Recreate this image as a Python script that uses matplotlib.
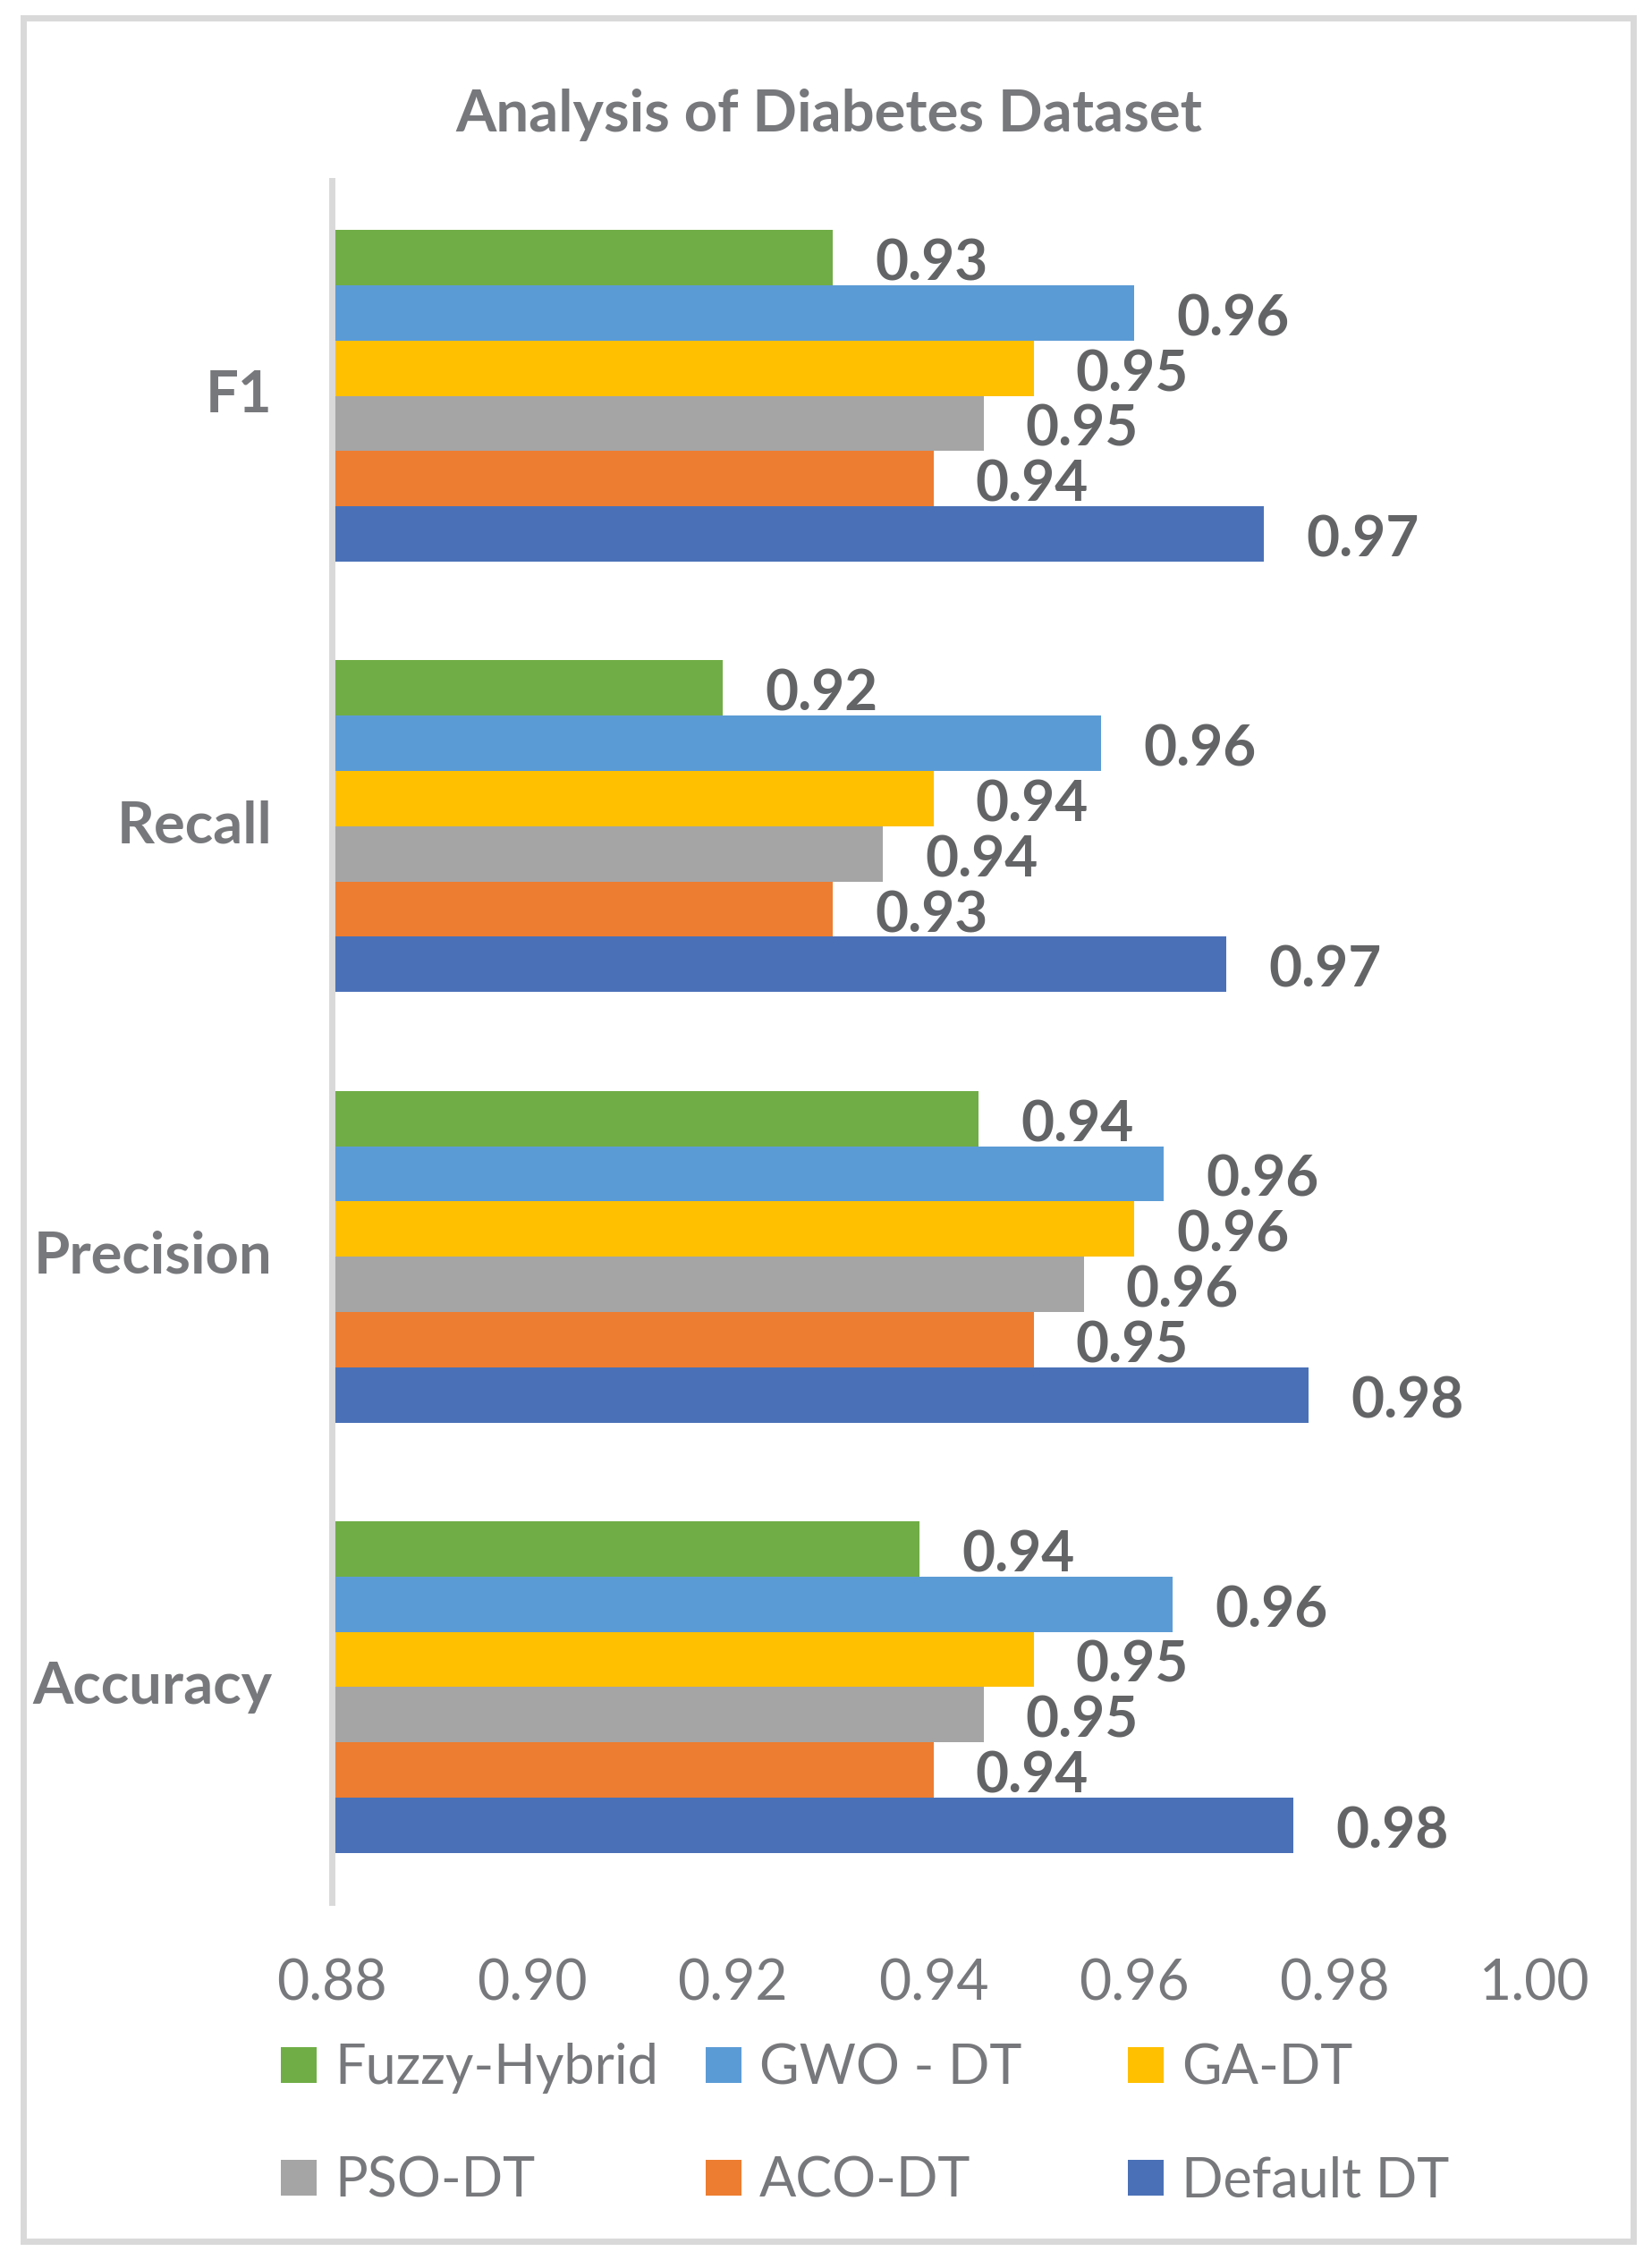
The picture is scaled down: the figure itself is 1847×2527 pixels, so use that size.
import numpy as np
import matplotlib
matplotlib.use("Agg")
import matplotlib.pyplot as plt
import matplotlib.transforms as mtransforms
from matplotlib.patches import Rectangle, Patch
from decimal import Decimal, ROUND_HALF_UP

plt.rcParams['font.family'] = ['Lato', 'DejaVu Sans']

# ---- data ----
categories = ['F1', 'Recall', 'Precision', 'Accuracy']
series_names = ['Fuzzy-Hybrid', 'GWO - DT', 'GA-DT', 'PSO-DT', 'ACO-DT', 'Default DT']
fuzzy_hybrid = [0.930, 0.919, 0.9445, 0.9386]
gwo_dt = [0.960, 0.9567, 0.963, 0.9639]
ga_dt = [0.950, 0.940, 0.960, 0.950]
pso_dt = [0.945, 0.935, 0.955, 0.945]
aco_dt = [0.940, 0.930, 0.950, 0.940]
default_dt = [0.973, 0.9692, 0.9774, 0.9759]
x_ticks = [0.88, 0.90, 0.92, 0.94, 0.96, 0.98, 1.00]

series_values = [fuzzy_hybrid, gwo_dt, ga_dt, pso_dt, aco_dt, default_dt]
colors = ['#70AD47', '#5B9BD5', '#FFC000', '#A5A5A5', '#ED7D31', '#4A71B7']

TEXT = '#77787B'
LABEL = '#636466'
GRID = '#D9D9D9'

W, H = 1847, 2527
fig = plt.figure(figsize=(W / 100, H / 100), dpi=100)
fig.patch.set_facecolor('white')

# outer border
fig.patches.append(Rectangle((26 / W, 1 - 2506 / H), (1826 - 26) / W, (2506 - 20) / H,
                             transform=fig.transFigure, fill=False,
                             edgecolor=GRID, linewidth=5, zorder=0))

ax = fig.add_axes([371 / W, 1 - 2127 / H, (1716 - 371) / W, (2127 - 202) / H])

n = len(series_names)
bh = 0.1284
ypos = np.arange(len(categories))
for i, (name, vals, c) in enumerate(zip(series_names, series_values, colors)):
    y = ypos + (i - (n - 1) / 2) * bh
    ax.barh(y, vals, height=bh, left=0, color=c, label=name, zorder=2)
    for yy, v in zip(y, vals):
        lab = str(Decimal(str(v)).quantize(Decimal('0.01'), rounding=ROUND_HALF_UP))
        ax.annotate(lab, xy=(v, yy), xytext=(34, -5), textcoords='offset points',
                    ha='left', va='center', fontsize=46, fontweight='bold',
                    color=LABEL)

ax.set_xlim(0.88, 1.00)
ax.set_ylim(len(categories) - 0.5, -0.5)
ax.set_xticks(x_ticks)
ax.set_xticklabels([f'{t:.2f}' for t in x_ticks])
ax.set_yticks(ypos)
ax.set_yticklabels(categories)
ax.tick_params(axis='x', length=0, pad=45, labelsize=45, labelcolor=TEXT)
ax.tick_params(axis='y', length=0, pad=48, labelsize=47, labelcolor=TEXT)
shift = mtransforms.ScaledTranslation(0, 4 / 72, fig.dpi_scale_trans)
for lab in ax.get_yticklabels():
    lab.set_fontweight('bold')
    lab.set_transform(lab.get_transform() + shift)
for s in ['top', 'right', 'bottom']:
    ax.spines[s].set_visible(False)
ax.spines['left'].set_color(GRID)
ax.spines['left'].set_linewidth(5)
ax.spines['left'].set_zorder(3)

fig.text(927 / W, 1 - 129 / H, 'Analysis of Diabetes Dataset', ha='center', va='center',
         fontsize=47, fontweight='bold', color=TEXT)

# legend: three columns of two entries each
col_x = [314 / W, 789 / W, 1261 / W]
ycen = 1 - 2376 / H
for k in range(3):
    idx = [k, k + 3]
    handles = [Patch(facecolor=colors[j], edgecolor='none') for j in idx]
    leg = fig.legend(handles, [series_names[j] for j in idx], loc='center left',
                     bbox_to_anchor=(col_x[k], ycen), frameon=False, fontsize=44,
                     handlelength=0.65, handleheight=0.65, handletextpad=0.33,
                     labelspacing=1.13, borderpad=0, borderaxespad=0)
    for t in leg.get_texts():
        t.set_color(TEXT)

fig.savefig('out.png', dpi=100, facecolor='white')
